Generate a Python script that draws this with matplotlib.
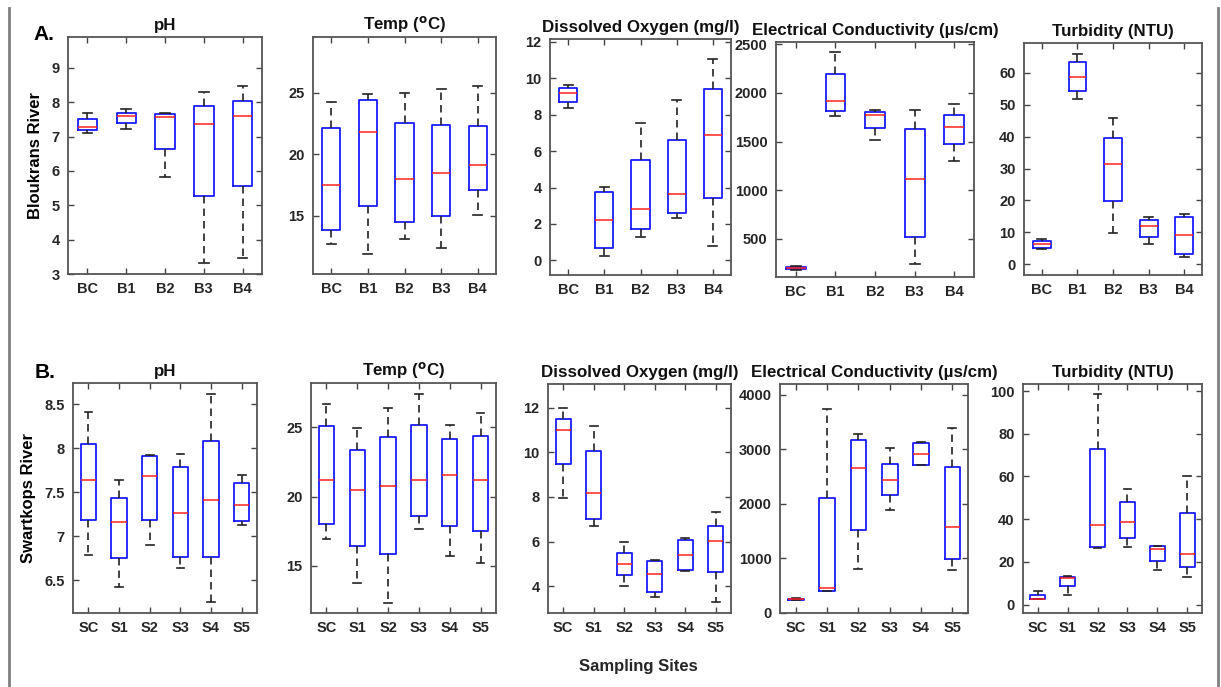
import matplotlib.pyplot as plt
from matplotlib.lines import Line2D

plt.rcParams['font.family'] = ['Liberation Sans', 'DejaVu Sans']
plt.rcParams['font.weight'] = 'bold'
plt.rcParams['mathtext.default'] = 'regular'

W, H = 1221, 687

sites_b = ['BC', 'B1', 'B2', 'B3', 'B4']
sites_s = ['SC', 'S1', 'S2', 'S3', 'S4', 'S5']

# each site: [lower whisker, q1, median, q3, upper whisker]
ph_b = [[7.11, 7.19, 7.28, 7.51, 7.69],
        [7.22, 7.41, 7.59, 7.70, 7.81],
        [5.81, 6.64, 7.57, 7.67, 7.70],
        [3.31, 5.27, 7.36, 7.90, 8.29],
        [3.48, 5.56, 7.61, 8.04, 8.47]]
temp_b = [[12.7, 13.9, 17.5, 22.1, 24.2],
          [11.9, 15.8, 21.8, 24.4, 24.9],
          [13.1, 14.5, 18.0, 22.5, 25.0],
          [12.4, 15.0, 18.5, 22.4, 25.3],
          [15.05, 17.1, 19.1, 22.3, 25.5]]
do_b = [[8.36, 8.70, 9.17, 9.48, 9.65],
        [0.27, 0.68, 2.24, 3.74, 4.03],
        [1.31, 1.73, 2.82, 5.53, 7.55],
        [2.32, 2.61, 3.67, 6.59, 8.78],
        [0.80, 3.41, 6.90, 9.38, 11.04]]
ec_b = [[175, 185, 198, 208, 215],
        [1759, 1813, 1915, 2190, 2422],
        [1517, 1643, 1772, 1803, 1827],
        [236, 514, 1118, 1629, 1823],
        [1296, 1473, 1653, 1772, 1891]]
turb_b = [[4.7, 5.2, 6.3, 7.2, 7.8],
          [51.7, 54.2, 58.7, 63.4, 66.1],
          [9.9, 19.7, 31.4, 39.6, 45.8],
          [6.3, 8.5, 11.9, 14.0, 14.9],
          [2.2, 3.2, 9.2, 14.8, 15.7]]

ph_s = [[6.79, 7.19, 7.64, 8.05, 8.41],
        [6.42, 6.75, 7.16, 7.44, 7.64],
        [6.90, 7.18, 7.68, 7.91, 7.92],
        [6.64, 6.76, 7.27, 7.79, 7.93],
        [6.25, 6.76, 7.41, 8.08, 8.62],
        [7.13, 7.17, 7.35, 7.60, 7.70]]
temp_s = [[16.95, 18.0, 21.2, 25.07, 26.7],
          [13.75, 16.4, 20.45, 23.4, 24.95],
          [12.35, 15.85, 20.8, 24.3, 26.4],
          [17.65, 18.6, 21.2, 25.2, 27.4],
          [15.7, 17.85, 21.55, 24.15, 25.2],
          [15.2, 17.5, 21.2, 24.35, 26.0]]
do_s = [[7.95, 9.47, 11.0, 11.49, 12.0],
        [6.68, 7.02, 8.17, 10.08, 11.18],
        [4.00, 4.49, 4.99, 5.50, 6.00],
        [3.50, 3.76, 4.55, 5.13, 5.16],
        [4.70, 4.73, 5.41, 6.06, 6.15],
        [3.30, 4.64, 6.03, 6.70, 7.32]]
ec_s = [[235, 242, 255, 265, 272],
        [397, 397, 458, 2107, 3737],
        [806, 1515, 2657, 3176, 3279],
        [1887, 2156, 2431, 2730, 3023],
        [2711, 2711, 2913, 3127, 3139],
        [794, 995, 1569, 2669, 3402]]
turb_s = [[2.6, 2.6, 2.6, 4.7, 6.5],
          [4.7, 8.6, 12.5, 12.9, 13.6],
          [26.3, 26.8, 37.4, 72.7, 98.6],
          [26.9, 31.3, 38.9, 48.1, 54.2],
          [16.2, 20.4, 25.9, 27.3, 27.6],
          [12.9, 17.6, 23.8, 42.8, 60.0]]

fig = plt.figure(figsize=(W / 100, H / 100), dpi=100)


def px(x0, y0, x1, y1):
    return [x0 / W, 1 - y1 / H, (x1 - x0) / W, (y1 - y0) / H]


def panel(box, data, labels, title, yticks, ylim, yticklabels=None):
    ax = fig.add_axes(px(*box))
    stats = [dict(whislo=d[0], q1=d[1], med=d[2], q3=d[3], whishi=d[4], fliers=[])
             for d in data]
    n = len(data)
    ax.bxp(stats, positions=range(1, n + 1), widths=0.5, capwidths=0.25,
           showfliers=False,
           boxprops=dict(color='#1a1aff', lw=1.3),
           medianprops=dict(color='#ff2020', lw=1.1),
           whiskerprops=dict(color='#222222', lw=1.2, linestyle=(0, (4.5, 3))),
           capprops=dict(color='#222222', lw=1.2))
    ax.set_xlim(0.5, n + 0.5)
    ax.set_ylim(*ylim)
    ax.set_xticks(range(1, n + 1))
    ax.set_xticklabels(labels)
    ax.set_yticks(yticks)
    if yticklabels is not None:
        ax.set_yticklabels(yticklabels)
    ax.tick_params(direction='in', top=True, right=True, length=4, width=1,
                   color='#444444', labelsize=10.5, labelcolor='#262626', pad=6)
    for s in ax.spines.values():
        s.set_color('#555555')
        s.set_linewidth(1.3)
    ax.set_title(title, fontsize=12.2, fontweight='bold', pad=5, color='#111111')
    return ax


t_ph = 'pH'
t_temp = r'Temp ($^{\mathrm{o}}$C)'
t_do = 'Dissolved Oxygen (mg/l)'
t_ec = 'Electrical Conductivity (\u00b5s/cm)'
t_turb = 'Turbidity (NTU)'

a = panel((68, 37, 262, 274), ph_b, sites_b, t_ph, range(3, 10), (3, 9.9))
a.set_ylabel('Bloukrans River', fontsize=12, fontweight='bold', labelpad=6)
panel((313, 37, 496, 274), temp_b, sites_b, t_temp, [15, 20, 25], (10.3, 29.5))
panel((550, 39, 731, 275), do_b, sites_b, t_do, range(0, 13, 2), (-0.8, 12.15))
panel((776, 42, 974, 277), ec_b, sites_b, t_ec, range(500, 2501, 500), (106, 2524))
panel((1024, 43, 1202, 275), turb_b, sites_b, t_turb, range(0, 61, 10), (-3.4, 69.4))

a = panel((73, 383, 257, 613), ph_s, sites_s, t_ph, [6.5, 7, 7.5, 8, 8.5], (6.13, 8.74),
          ['6.5', '7', '7.5', '8', '8.5'])
a.set_ylabel('Swartkops River', fontsize=12, fontweight='bold', labelpad=6)
panel((311, 383, 496, 613), temp_s, sites_s, t_temp, [15, 20, 25], (11.6, 28.2))
panel((548, 384, 731, 613), do_s, sites_s, t_do, range(4, 13, 2), (2.8, 13.06))
panel((780, 384, 968, 613), ec_s, sites_s, t_ec, range(0, 4001, 1000), (0, 4200))
panel((1023, 384, 1202, 613), turb_s, sites_s, t_turb, range(0, 101, 20), (-3.9, 103.3))

fig.text(33 / W, 1 - 35 / H, 'A.', fontsize=15, fontweight='bold', va='center')
fig.text(35 / W, 1 - 372 / H, 'B.', fontsize=15, fontweight='bold', va='center')
fig.text(638 / W, 1 - 667 / H, 'Sampling Sites', fontsize=12, fontweight='bold',
         ha='center', va='center', color='#262626')

fig.add_artist(Line2D([9 / W, 9 / W], [0, 1 - 8 / H], color='#808080', lw=2))
fig.add_artist(Line2D([1218 / W, 1218 / W], [0, 1 - 8 / H], color='#808080', lw=2))

fig.savefig('out.png', dpi=100)
